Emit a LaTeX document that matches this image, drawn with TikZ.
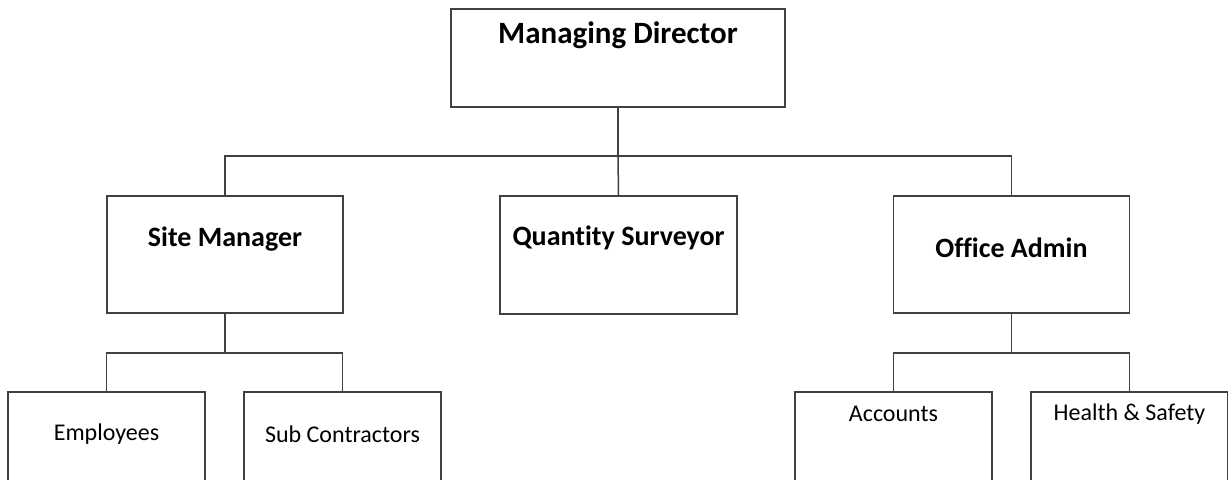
\documentclass[tikz,border=0pt]{standalone}
\usepackage{fontspec}
\setmainfont{Carlito}[Ligatures=NoCommon]
\begin{document}
\begin{tikzpicture}[x=1pt,y=-1pt,
  post/.style={shape=rectangle,draw=black!75,line width=1.5pt,inner sep=0pt},
  head/.style={font=\fontsize{28}{34}\bfseries\selectfont},
  sub/.style={font=\fontsize{24}{29}\selectfont},
  link/.style={draw=black!75,line width=1.5pt}]
\useasboundingbox (0,0) rectangle (1228,479);
\fill[white] (0,0) rectangle (1228,479);
\clip (0,0) rectangle (1228,479);

% boxes
\node(md) at (618,58)[post,minimum width=334pt,minimum height=98pt]   {};
\node(sm) at (225,254.5)[post,minimum width=236pt,minimum height=117pt] {};
\node(qs) at (618.5,255)[post,minimum width=237pt,minimum height=118pt] {};
\node(oa) at (1011.5,254.5)[post,minimum width=236pt,minimum height=117pt] {};
\node(emp) at (106.5,451)[post,minimum width=197pt,minimum height=118pt] {};
\node(subc) at (342.5,451)[post,minimum width=197pt,minimum height=118pt] {};
\node(acc) at (893.5,451)[post,minimum width=197pt,minimum height=118pt] {};
\node(hs) at (1129.5,451)[post,minimum width=197pt,minimum height=118pt] {};

% texts
\node(mdt) at (618,35)[head,font=\fontsize{31}{37}\bfseries\selectfont] {Managing Director};
\node(smt) at (225,239)[head]  {Site Manager};
\node(qst) at (618.5,238)[head] {Quantity Surveyor};
\node(oat) at (1011.5,248)[head] {Office Admin};
\node(empt) at (106.5,434)[sub]  {Employees};
\node(subct) at (342.5,434)[sub] {Sub Contractors};
\node(acct) at (893.5,414)[sub]  {Accounts};
\node(hst) at (1129.5,414)[sub]  {Health \& Safety};

% connectors
\coordinate(bus) at (618,156);
\coordinate(smbus) at (225,353);
\coordinate(oabus) at (1011.5,353);

\path[link] (md.south) -- (bus) -| (sm.north);
\path[link] (bus) -| (oa.north);
\path[link] (bus) -- (qs.north);
\path[link] (sm.south) -- (smbus) -| (emp.north);
\path[link] (smbus) -| (subc.north);
\path[link] (oa.south) -- (oabus) -| (acc.north);
\path[link] (oabus) -| (hs.north);

\end{tikzpicture}
\end{document}
